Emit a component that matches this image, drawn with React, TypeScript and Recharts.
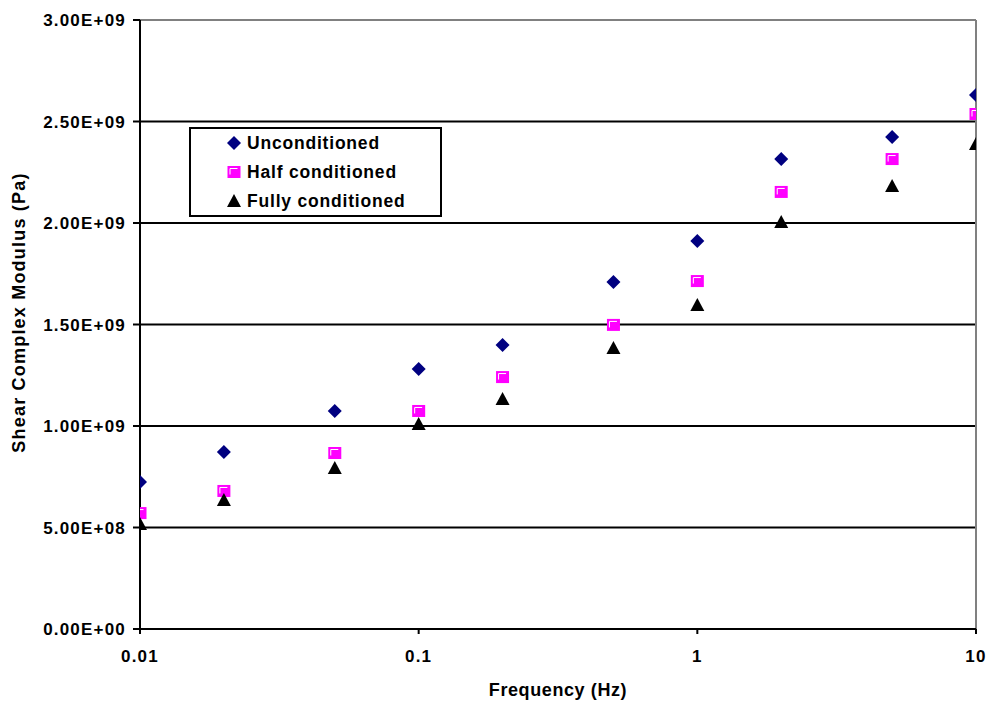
import React from "react";
import {
  ScatterChart,
  Scatter,
  XAxis,
  YAxis,
  CartesianGrid,
  ReferenceLine,
} from "recharts";

const frequencies = [0.01, 0.02, 0.05, 0.1, 0.2, 0.5, 1, 2, 5, 10];
const unconditioned = [0.724e9, 0.872e9, 1.074e9, 1.281e9, 1.399e9, 1.709e9, 1.911e9, 2.315e9, 2.424e9, 2.631e9];
const halfConditioned = [0.571e9, 0.68e9, 0.867e9, 1.074e9, 1.241e9, 1.498e9, 1.714e9, 2.153e9, 2.315e9, 2.537e9];
const fullyConditioned = [0.517e9, 0.635e9, 0.793e9, 1.01e9, 1.133e9, 1.384e9, 1.596e9, 2.005e9, 2.182e9, 2.389e9];
const xTicks = [0.01, 0.1, 1, 10];
const yTicks = [0, 0.5e9, 1e9, 1.5e9, 2e9, 2.5e9, 3e9];
const seriesNames = ["Unconditioned", "Half conditioned", "Fully conditioned"];

const FONT = "'Liberation Sans', Arial, Helvetica, sans-serif";

const toPoints = (vals: number[]) => frequencies.map((f, i) => ({ x: f, y: vals[i] }));

const fmtY = (v: number) => {
  if (v === 0) return "0.00E+00";
  const exp = Math.floor(Math.log10(v) + 1e-9);
  const mant = v / Math.pow(10, exp);
  return `${mant.toFixed(2)}E+${String(exp).padStart(2, "0")}`;
};

const Diamond = ({ cx, cy }: any) => (
  <polygon
    points={`${cx},${cy - 7} ${cx + 7},${cy} ${cx},${cy + 7} ${cx - 7},${cy}`}
    fill="#000080"
  />
);

const Square = ({ cx, cy }: any) => {
  const w = 13;
  const h = 12;
  const x = cx - w / 2;
  const y = cy - h / 2;
  return (
    <g>
      <rect x={x} y={y} width={w} height={h} fill="#FF00FF" />
      <polyline
        points={`${x + 2.5},${y + h - 3.5} ${x + 2.5},${y + 2.5} ${x + w - 3},${y + 2.5}`}
        fill="none"
        stroke="#ffffff"
        strokeWidth={1}
      />
    </g>
  );
};

const Triangle = ({ cx, cy }: any) => (
  <polygon
    points={`${cx},${cy - 7} ${cx + 7},${cy + 6} ${cx - 7},${cy + 6}`}
    fill="#000000"
  />
);

const shapes = [Diamond, Square, Triangle];

const LegendBox = () => (
  <div
    style={{
      position: "absolute",
      left: 189,
      top: 127,
      width: 249,
      height: 86,
      border: "2px solid #000",
      background: "#fff",
      fontFamily: FONT,
      fontWeight: "bold",
      fontSize: 17.5,
      letterSpacing: 0.8,
      color: "#000",
    }}
  >
    {seriesNames.map((name, i) => {
      const Shape = shapes[i];
      return (
        <div key={name} style={{ height: 29, position: "relative" }}>
          <svg width={16} height={16} style={{ position: "absolute", left: 35, top: 6 }}>
            <Shape cx={8} cy={8} />
          </svg>
          <span style={{ position: "absolute", left: 56, top: 0, lineHeight: "28px" }}>{name}</span>
        </div>
      );
    })}
  </div>
);

const YTitle = (props: any) => {
  const vb = props.viewBox || {};
  const cx = 19;
  const cy = (vb.y ?? 20) + (vb.height ?? 609) / 2 - 12;
  return (
    <text
      x={cx}
      y={cy}
      transform={`rotate(-90 ${cx} ${cy})`}
      textAnchor="middle"
      dominantBaseline="central"
      fontFamily={FONT}
      fontWeight="bold"
      fontSize={18}
      letterSpacing={1.2}
      fill="#000"
    >
      Shear Complex Modulus (Pa)
    </text>
  );
};

export default function App() {
  const tickStyle = {
    fontFamily: FONT,
    fontWeight: "bold",
    fontSize: 17,
    letterSpacing: 1.2,
    fill: "#000",
  } as any;
  return (
    <div style={{ position: "absolute", left: 0, top: 0, width: 989, height: 702, background: "#fff" }}>
      <ScatterChart
        width={989}
        height={702}
        margin={{ top: 20, right: 13, bottom: 0, left: 0 }}
      >
        <CartesianGrid vertical={false} stroke="#000" strokeWidth={2} />
        <XAxis
          type="number"
          dataKey="x"
          scale="log"
          domain={[0.01, 10]}
          ticks={xTicks}
          tickFormatter={(v: number) => String(v)}
          height={73}
          tickSize={5}
          tickMargin={16}
          axisLine={{ stroke: "#000", strokeWidth: 2 }}
          tickLine={{ stroke: "#000", strokeWidth: 2 }}
          tick={tickStyle}
          allowDataOverflow
          label={{
            value: "Frequency (Hz)",
            position: "insideBottom",
            offset: 6,
            style: {
              fontFamily: FONT,
              fontWeight: "bold",
              fontSize: 18,
              letterSpacing: 0.6,
              fill: "#000",
            },
          }}
        />
        <YAxis
          type="number"
          dataKey="y"
          domain={[0, 3e9]}
          ticks={yTicks}
          tickFormatter={fmtY}
          width={140}
          tickSize={7}
          tickMargin={7}
          axisLine={{ stroke: "#000", strokeWidth: 2 }}
          tickLine={{ stroke: "#000", strokeWidth: 2 }}
          tick={tickStyle}
          label={{ content: YTitle }}
        />
        <ReferenceLine y={3e9} stroke="#808080" strokeWidth={2} />
        <ReferenceLine x={10} stroke="#808080" strokeWidth={2} />
        <Scatter
          name={seriesNames[0]}
          data={toPoints(unconditioned)}
          shape={(p: any) => <Diamond cx={p.cx} cy={p.cy} />}
          isAnimationActive={false}
        />
        <Scatter
          name={seriesNames[1]}
          data={toPoints(halfConditioned)}
          shape={(p: any) => <Square cx={p.cx} cy={p.cy} />}
          isAnimationActive={false}
        />
        <Scatter
          name={seriesNames[2]}
          data={toPoints(fullyConditioned)}
          shape={(p: any) => <Triangle cx={p.cx} cy={p.cy} />}
          isAnimationActive={false}
        />
      </ScatterChart>
      <LegendBox />
    </div>
  );
}
